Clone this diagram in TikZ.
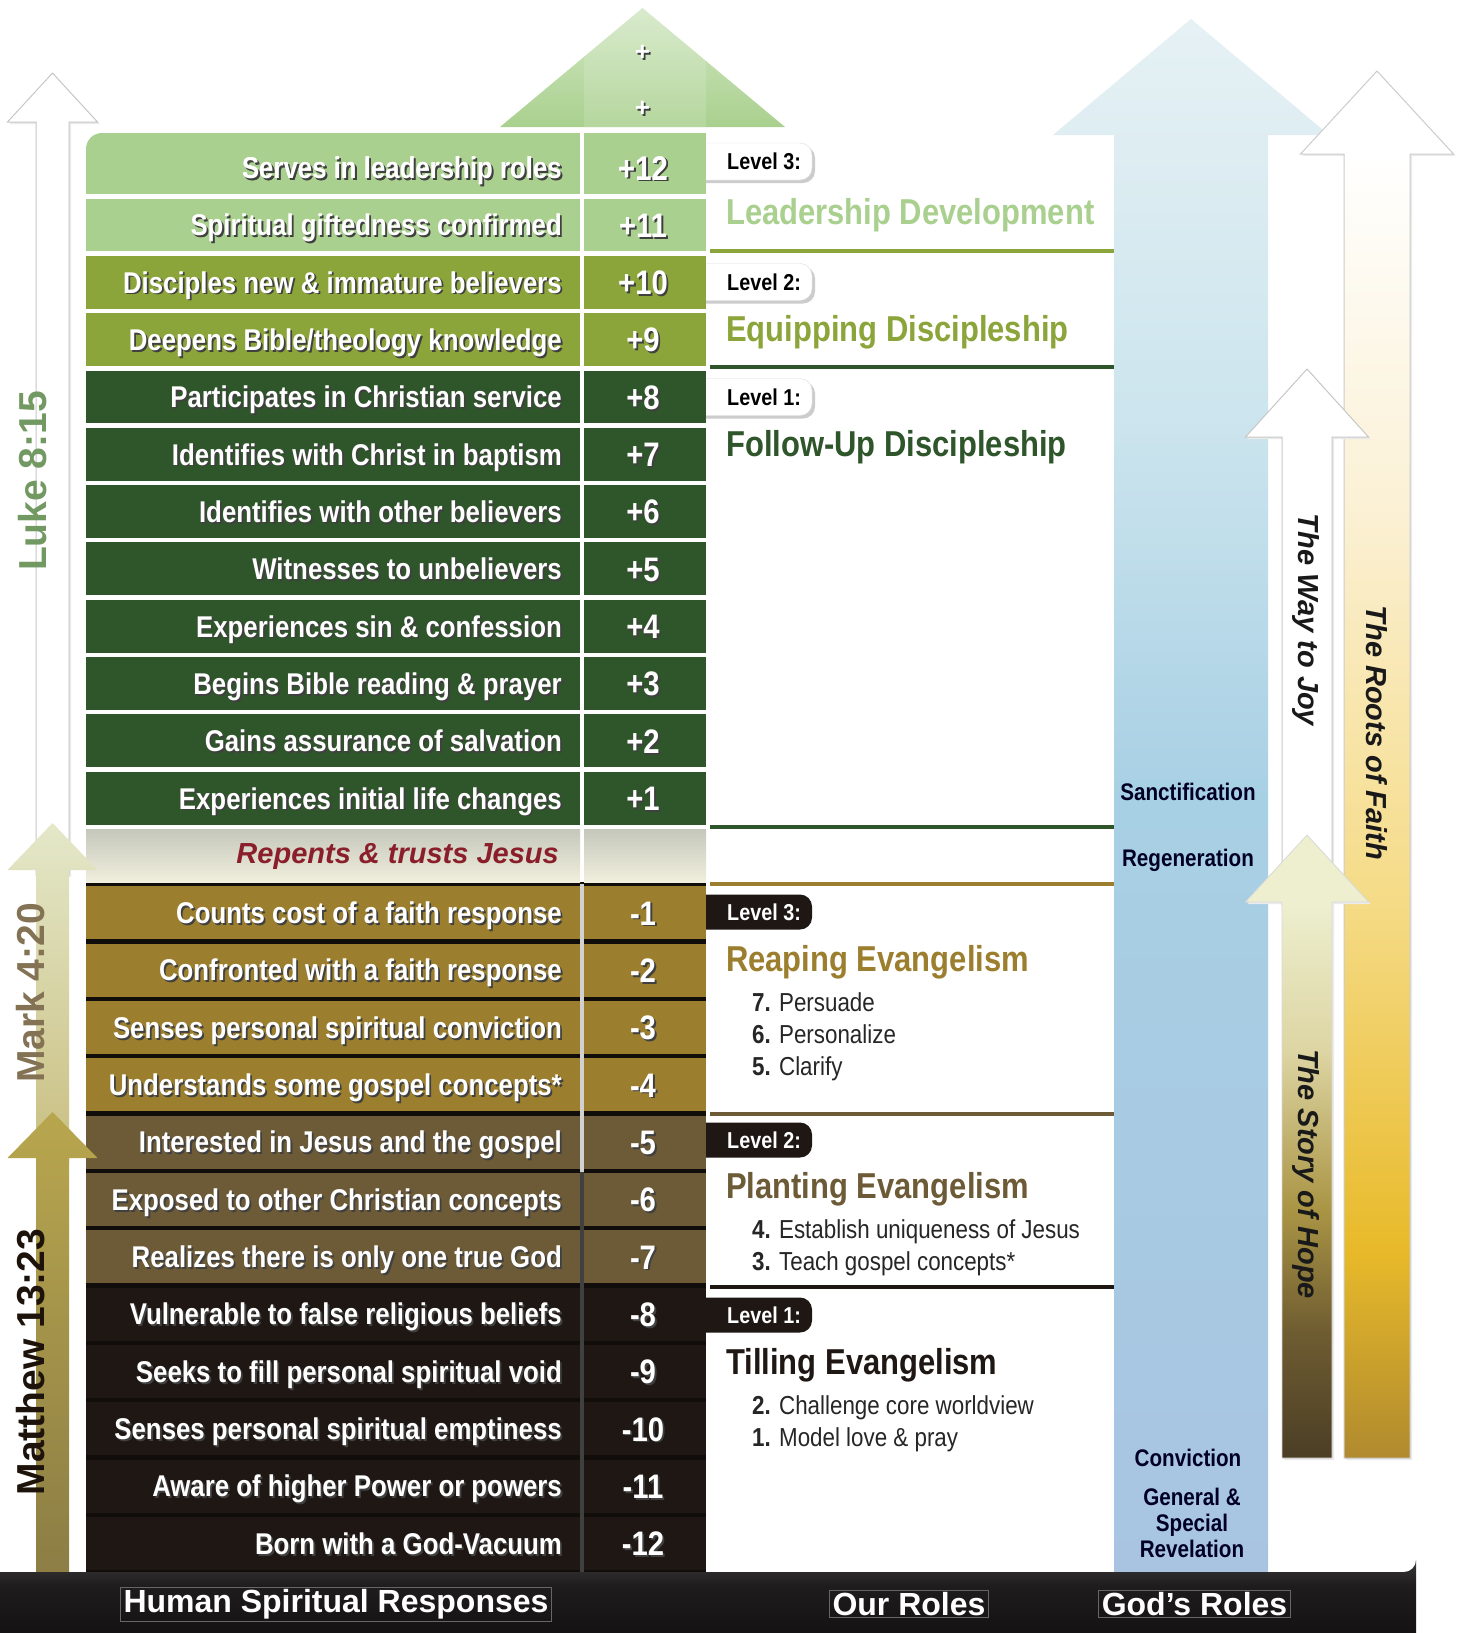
\documentclass[tikz,border=0pt]{standalone}
\usepackage{fontspec}
\setmainfont{Liberation Sans}
\newfontfamily\nar[FakeStretch=0.86]{Liberation Sans}

\definecolor{lg}{HTML}{A9D08E}
\definecolor{mg}{HTML}{8CA53A}
\definecolor{dg}{HTML}{2F552A}
\definecolor{gd}{HTML}{9B7F2F}
\definecolor{br}{HTML}{6D5A36}
\definecolor{bk}{HTML}{1E1713}
\definecolor{rp}{HTML}{8B1E2B}
\definecolor{triTop}{HTML}{D3E8C5}
\definecolor{bT}{HTML}{E6F1F4}
\definecolor{bT2}{HTML}{CDE5EE}
\definecolor{bM}{HTML}{A8D0E4}
\definecolor{bB}{HTML}{A8C4E1}
\definecolor{rA}{HTML}{FBF1D6}
\definecolor{rB}{HTML}{F5DB86}
\definecolor{rC}{HTML}{E8BA2A}
\definecolor{rD}{HTML}{B08A2E}
\definecolor{sA}{HTML}{EDEFCF}
\definecolor{sB}{HTML}{DDD5A3}
\definecolor{sC}{HTML}{AA9545}
\definecolor{sD}{HTML}{6E5C31}
\definecolor{sE}{HTML}{4B3E25}
\definecolor{mkTop}{HTML}{E4E8C9}
\definecolor{mkBot}{HTML}{C9BE80}
\definecolor{mtTop}{HTML}{B8A64E}
\definecolor{mtBot}{HTML}{8C7E45}
\definecolor{barA}{HTML}{5A5A5A}
\definecolor{barB}{HTML}{1E1C1C}
\definecolor{barC}{HTML}{141212}
\definecolor{repTop}{HTML}{C4C7BB}
\definecolor{repBot}{HTML}{F1EFDD}

\pgfdeclareverticalshading{blueshade}{100bp}{color(0bp)=(bB); color(25bp)=(bB); color(50bp)=(bM); color(62.5bp)=(bT2); color(75bp)=(bT); color(100bp)=(bT)}
\pgfdeclareverticalshading{rootsshade}{100bp}{color(0bp)=(rD); color(25bp)=(rD); color(32.5bp)=(rC); color(45bp)=(rB); color(59.5bp)=(rA); color(72bp)=(white); color(100bp)=(white)}
\pgfdeclareverticalshading{storyshade}{100bp}{color(0bp)=(sE); color(25bp)=(sE); color(35bp)=(sD); color(45bp)=(sC); color(57.7bp)=(sB); color(69.6bp)=(sA); color(100bp)=(sA)}
\pgfdeclareverticalshading{barshade}{100bp}{color(0bp)=(barC); color(25bp)=(barC); color(57bp)=(barB); color(70bp)=(barB!70!barA); color(75bp)=(barA); color(100bp)=(barA)}

\newcommand\shd[1]{\makebox[0pt][l]{\hspace{1.8pt}\raisebox{-1.8pt}{\textcolor{black!75}{#1}}}#1}
% up arrow: cx, half shaft, half head, tip y, head base y, bottom y
\newcommand\uparr[6]{({#1-#2},#6) -- ({#1-#2},#5) -- ({#1-#3},#5) -- (#1,#4) -- ({#1+#3},#5) -- ({#1+#2},#5) -- ({#1+#2},#6) -- cycle}

\begin{document}
\begin{tikzpicture}[x=1pt,y=-1pt,
  rowtxt/.style={text=white, font=\nar\bfseries\fontsize{30}{32}\selectfont, inner sep=0pt, anchor=base east},
  numtxt/.style={text=white, font=\nar\bfseries\fontsize{34}{36}\selectfont, inner sep=0pt, anchor=base},
  lvltxt/.style={font=\nar\bfseries\fontsize{23}{24}\selectfont, inner sep=0pt, anchor=base west},
  headtxt/.style={font=\nar\bfseries\fontsize{36}{38}\selectfont, inner sep=0pt, anchor=base west},
  itemtxt/.style={font=\nar\fontsize{26}{28}\selectfont, text=black!85, inner sep=0pt, anchor=base west},
  godtxt/.style={font=\nar\bfseries\fontsize{24}{26}\selectfont, text=black!85!blue, inner sep=0pt, anchor=base, align=center},
  versetxt/.style={font=\bfseries\fontsize{39}{40}\selectfont, rotate=90, inner sep=0pt},
  pathtxt/.style={font=\bfseries\itshape\fontsize{29}{30}\selectfont, rotate=-90, inner sep=0pt, text=black!90},
  bartxt/.style={font=\bfseries\fontsize{32}{34}\selectfont, text=white, draw=white!40!black, line width=0.8pt, inner xsep=3pt, inner ysep=2pt},
  plustxt/.style={font=\bfseries\fontsize{26}{26}\selectfont, text=white, inner sep=0pt},
  wtabshape/.style={fill=white, draw=black!14, rounded corners=12},
  btabshape/.style={fill=bk, rounded corners=12},
  panelline/.style={line width=4pt},
  whitearrow/.style={fill=white, draw=black!22, line width=1pt}
]
\useasboundingbox (0,0) rectangle (1460,1633);
\fill[white] (0,0) rectangle (1460,1633);

% ---------- green triangle on top ----------
\shade[top color=triTop, bottom color=lg] (500,127) -- (642.5,8) -- (785,127) -- cycle;
\begin{scope}
  \clip (500,127) -- (642.5,8) -- (785,127) -- cycle;
  \fill[white, opacity=0.14] (584,0) rectangle (706,127);
\end{scope}
\node[plustxt] (plusa) at (642.5,54) {\shd{+}};
\node[plustxt] (plusb) at (642.5,110) {\shd{+}};

% ---------- tabs (behind the number column) ----------
\foreach \ty in {161.5,282,397}{
  \fill[black!20, rounded corners=12] (694,{\ty-15.5}) rectangle (815,{\ty+21.5});
  \path[wtabshape] (690,{\ty-18.5}) rectangle (812,{\ty+18.5});
}
\foreach \ty in {912,1140,1315}{
  \path[btabshape] (690,{\ty-17.5}) rectangle (812,{\ty+17.5});
}

% ---------- table ----------
\fill[bk!55!black] (86,882) rectangle (706,1572);
\fill[black!18] (580,884) rectangle (584,1172);
\fill[black!75] (580,1172) rectangle (584,1572);

\foreach \i/\txt/\num/\col in {
  0/Serves in leadership roles/+12/lg,
  1/Spiritual giftedness confirmed/+11/lg,
  2/Disciples new \& immature believers/+10/mg,
  3/{Deepens Bible/theology knowledge}/+9/mg,
  4/Participates in Christian service/+8/dg,
  5/Identifies with Christ in baptism/+7/dg,
  6/Identifies with other believers/+6/dg,
  7/Witnesses to unbelievers/+5/dg,
  8/Experiences sin \& confession/+4/dg,
  9/Begins Bible reading \& prayer/+3/dg,
  10/Gains assurance of salvation/+2/dg,
  11/Experiences initial life changes/+1/dg,
  13/Counts cost of a faith response/-1/gd,
  14/Confronted with a faith response/-2/gd,
  15/Senses personal spiritual conviction/-3/gd,
  16/Understands some gospel concepts*/-4/gd,
  17/Interested in Jesus and the gospel/-5/br,
  18/Exposed to other Christian concepts/-6/br,
  19/Realizes there is only one true God/-7/br,
  20/Vulnerable to false religious beliefs/-8/bk,
  21/Seeks to fill personal spiritual void/-9/bk,
  22/Senses personal spiritual emptiness/-10/bk,
  23/Aware of higher Power or powers/-11/bk,
  24/Born with a God-Vacuum/-12/bk}{
  \pgfmathsetmacro\cy{167.7+57.32*\i}
  \fill[fill=\col] (86,{\cy-26.46}) rectangle (580,{\cy+26.46});
  \fill[fill=\col] (584,{\cy-26.46}) rectangle (706,{\cy+26.46});
  \node[rowtxt] (t\i) at (562,{\cy+10.8}) {\shd{\txt}};
  \node[numtxt] (n\i) at (643,{\cy+12.3}) {\shd{\num}};
}
% rounded top-left corner of first row
\fill[lg] (86,133) rectangle (580,150);
\fill[lg] (584,133) rectangle (706,150);
\fill[white] (84,131) rectangle (104,151);
\fill[lg, rounded corners=16] (86,133) rectangle (130,170);
\node[rowtxt] (t0b) at (562,{167.7+10.8}) {\shd{Serves in leadership roles}};
\node[numtxt] (n0b) at (643,{167.7+12.3}) {\shd{+12}};

% repents row
\shade[top color=repTop, bottom color=repBot] (86,829) rectangle (580,882);
\shade[top color=repTop, bottom color=repBot] (584,829) rectangle (706,882);
\node[font=\bfseries\itshape\fontsize{29}{30}\selectfont, text=rp, inner sep=0pt, anchor=base east] (rep) at (559,863) {Repents \& trusts Jesus};

% ---------- right panel (Our Roles) ----------
\draw[panelline, mg] (710,251) -- (1114,251);
\draw[panelline, dg] (710,366.5) -- (1114,366.5);
\draw[panelline, dg] (710,827) -- (1114,827);
\draw[panelline, gd] (710,884) -- (1114,884);
\draw[panelline, br] (710,1114) -- (1114,1114);
\draw[panelline, bk] (710,1287) -- (1114,1287);

\node[lvltxt, text=black] (l3) at (727,169.8) {Level 3:};
\node[lvltxt, text=black] (l2) at (727,290.3) {Level 2:};
\node[lvltxt, text=black] (l1) at (727,405.3) {Level 1:};
\node[lvltxt, text=white] (e3) at (727,920.3) {Level 3:};
\node[lvltxt, text=white] (e2) at (727,1148.3) {Level 2:};
\node[lvltxt, text=white] (e1) at (727,1323.3) {Level 1:};

\node[headtxt, text=lg] (hlead) at (726,224) {Leadership Development};
\node[headtxt, text=mg] (hequip) at (726,341) {Equipping Discipleship};
\node[headtxt, text=dg] (hfollow) at (726,456) {Follow-Up Discipleship};
\node[headtxt, text=gd] (hreap) at (726,971) {Reaping Evangelism};
\node[headtxt, text=br] (hplant) at (726,1198) {Planting Evangelism};
\node[headtxt, text=bk] (htill) at (726,1374) {Tilling Evangelism};

\node[itemtxt] (i7) at (752,1011.4) {\textbf{7.} Persuade};
\node[itemtxt] (i6) at (752,1043.4) {\textbf{6.} Personalize};
\node[itemtxt] (i5) at (752,1075.4) {\textbf{5.} Clarify};
\node[itemtxt] (i4) at (752,1238.4) {\textbf{4.} Establish uniqueness of Jesus};
\node[itemtxt] (i3) at (752,1270.4) {\textbf{3.} Teach gospel concepts*};
\node[itemtxt] (i2) at (752,1414.4) {\textbf{2.} Challenge core worldview};
\node[itemtxt] (i1) at (752,1446.4) {\textbf{1.} Model love \& pray};

% ---------- God's roles (blue arrow) ----------
\path[shading=blueshade] \uparr{1191}{77}{138}{19}{135}{1572};
\node[godtxt] (sanct) at (1188,800) {Sanctification};
\node[godtxt] (regen) at (1188,866.6) {Regeneration};
\node[godtxt] (convic) at (1188,1466.6) {Conviction};
\node[font=\nar\bfseries\fontsize{24}{26}\selectfont, text=black!85!blue, inner sep=0pt, align=center] (reveal) at (1192,1523) {General \&\\Special\\Revelation};

% ---------- right arrows ----------
\fill[black!8] [shift={(2,2)}] \uparr{1377}{33}{76.5}{71}{154}{1458};
\path[shading=rootsshade, draw=black!20, line width=1pt] \uparr{1377}{33}{76.5}{71}{154}{1458};
\node[pathtxt] (roots) at (1377,733) {The Roots of Faith};

\fill[black!8] [shift={(2,2)}] \uparr{1307}{25}{61.5}{369}{437}{905};
\path[whitearrow] \uparr{1307}{25}{61.5}{369}{437}{905};
\node[pathtxt] (joy) at (1306,620) {The Way to Joy};

\fill[black!8] [shift={(2,2)}] \uparr{1307}{25}{61.5}{835}{902}{1458};
\path[shading=storyshade, draw=black!15, line width=0.8pt] \uparr{1307}{25}{61.5}{835}{902}{1458};
\node[pathtxt] (hope) at (1306,1174) {The Story of Hope};

% ---------- left arrows ----------
\fill[black!8] [shift={(2,2)}] \uparr{52.5}{16.5}{45}{73}{122}{875};
\path[whitearrow] \uparr{52.5}{16.5}{45}{73}{122}{875};
\node[versetxt, text=lg!55!dg] (luke) at (33,481) {Luke 8:15};

\shade[top color=mkTop, bottom color=mkBot] \uparr{52.5}{16.5}{45}{823}{870}{1165};
\node[versetxt, text=br!85!white] (mark) at (31,993) {Mark 4:20};

\shade[top color=mtTop, bottom color=mtBot] \uparr{52.5}{16.5}{45}{1112}{1158}{1572};
\node[versetxt, text=black!85!brown] (matt) at (31,1362) {Matthew 13:23};

% ---------- bottom bar ----------
\path[shading=barshade]
  (0,1572) -- (1404,1572) arc[start angle=90, end angle=0, radius=12] -- (1416,1633) -- (0,1633) -- cycle;
\node[bartxt] (hsr) at (336,1604) {Human Spiritual Responses};
\node[bartxt] (ours) at (909,1604) {Our Roles};
\node[bartxt] (gods) at (1194.5,1604) {God’s Roles};
\end{tikzpicture}
\end{document}
